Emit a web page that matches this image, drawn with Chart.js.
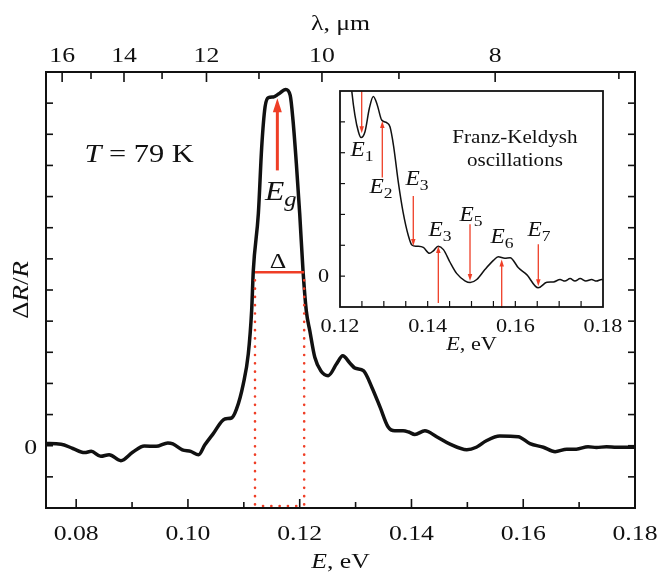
<!DOCTYPE html>
<html><head><meta charset="utf-8">
<script src="https://cdn.jsdelivr.net/npm/chart.js@4.4.1/dist/chart.umd.min.js"></script>
<style>
html,body{margin:0;padding:0;background:#fff;}
#wrap{position:relative;width:659px;height:577px;overflow:hidden;}
#main{position:absolute;left:0;top:0;}
#inset{position:absolute;left:300px;top:80px;}
</style></head><body>
<div id="wrap"><canvas id="main" width="659" height="577"></canvas><canvas id="inset" width="340" height="290"></canvas></div>
<script>
// ---------- data (main panel) ----------
const mainE = [0.0746,0.0773,0.0794,0.0815,0.0827,0.0844,0.0859,0.0880,0.0901,0.0922,0.0943,0.0964,0.0973,0.0990,0.1005,0.1019,0.1030,0.1045,0.1066,0.1078,0.1087,0.1099,0.1108,0.1114,0.1117,0.1126,0.1132,0.1138,0.1144,0.1153,0.1162,0.1175,0.1183,0.1188,0.1194,0.1200,0.1206,0.1212,0.1218,0.1227,0.1238,0.1251,0.1266,0.1277,0.1290,0.1299,0.1314,0.1329,0.1344,0.1358,0.1370,0.1385,0.1395,0.1406,0.1424,0.1445,0.1469,0.1499,0.1516,0.1534,0.1558,0.1591,0.1612,0.1636,0.1657,0.1678,0.1695,0.1716,0.1731,0.1749,0.1767,0.1785,0.1800];
const mainR = [0.07,0.05,-0.09,-0.22,-0.18,-0.34,-0.29,-0.48,-0.21,-0.01,-0.02,0.09,0.06,-0.13,-0.18,-0.29,0.02,0.38,0.86,0.89,1.18,1.98,2.95,4.34,5.63,7.45,9.59,10.88,11.18,11.20,11.29,11.44,11.25,10.45,9.06,7.45,5.60,4.30,3.70,2.84,2.40,2.25,2.63,2.89,2.65,2.49,2.41,1.88,1.23,0.61,0.48,0.48,0.44,0.36,0.48,0.29,0.05,-0.13,-0.05,0.16,0.31,0.29,0.07,-0.05,-0.19,-0.11,-0.11,-0.03,-0.06,-0.03,-0.05,-0.05,-0.05];
// ---------- data (inset) ----------
const insetE = [0.1222,0.1227,0.1234,0.1242,0.1248,0.1257,0.1267,0.1276,0.1285,0.1295,0.1307,0.1314,0.1322,0.1333,0.1344,0.1356,0.1364,0.1375,0.1390,0.1404,0.1413,0.1424,0.1436,0.1451,0.1466,0.1485,0.1497,0.1512,0.1531,0.1550,0.1561,0.1576,0.1588,0.1607,0.1626,0.1652,0.1672,0.1687,0.1702,0.1713,0.1725,0.1736,0.1748,0.1761,0.1774,0.1785,0.1797,0.1800];
const insetR = [6.8,5.98,5.22,4.68,4.49,4.68,5.44,5.82,5.55,5.06,4.97,4.84,4.24,3.05,2.07,1.31,1.01,0.97,0.93,0.74,0.82,0.97,0.86,0.45,0.09,-0.15,-0.21,-0.11,0.22,0.51,0.63,0.58,0.60,0.27,0.05,-0.38,-0.20,-0.19,-0.11,-0.16,-0.08,-0.16,-0.08,-0.16,-0.11,-0.16,-0.11,-0.12];
// ---------- ticks ----------
const xMajor = [0.08,0.10,0.12,0.14,0.16,0.18];
const xMajorLabels = ['0.08','0.10','0.12','0.14','0.16','0.18'];
const xMinor = [0.09,0.11,0.13,0.15,0.17];
const lambdaMajor = [16,14,12,10,8];
const lambdaMinor = [15,13,11,9,7];
const yTicks = [-1,0,1,2,3,4,5,6,7,8,9,10,11];
const insetXMajor = [0.12,0.14,0.16,0.18];
const insetXLabels = ['0.12','0.14','0.16','0.18'];
const insetXMinor = [0.125,0.13,0.135,0.14,0.145,0.15,0.155,0.16,0.165,0.17,0.175];
const insetYTicks = [0,1,2,3,4,5];
// ---------- annotations (data units) ----------
const HC = 1.2398; // eV*um
const egArrow = {x:0.1160, from:8.84, to:11.16};
const egLabel = {x:0.1166, y:7.88};
const delta = {x0:0.1120, x1:0.1208, y:5.57};
const deltaLabel = {x:0.1161, y:5.72};
const tempLabel = {x:0.0815, y:9.12};
// inset arrows: [E, fromY, toY]
const fkArrows = [[0.12495,6.0,4.63],[0.12965,3.2,5.03],[0.13672,2.6,0.98],[0.14243,-0.87,0.98],[0.14966,1.68,-0.16],[0.15689,-1.03,0.54],[0.16524,1.03,-0.33]];
const fkLabels = [['1',0.12502,3.89],['2',0.12935,2.69],['3',0.13757,2.95],['3',0.14282,1.29],['5',0.14989,1.78],['6',0.15696,1.06],['7',0.16540,1.29]];
const fkText = {x:0.1599, y1:4.30, y2:3.58};

const SX = 1.17;
const RED = '#ef3e26';
const FAM = '"Liberation Serif", "Times New Roman", serif';
function font(size, it){ return (it?'italic ':'') + size + 'px ' + FAM; }
function drawRich(ctx, segs, x, y, align){
  const ws = segs.map(s => { ctx.font = font(s.size, s.it); return ctx.measureText(s.t).width * SX; });
  const tot = ws.reduce((a,b)=>a+b,0);
  let sx = align==='center' ? x - tot/2 : (align==='right' ? x - tot : x);
  ctx.textAlign='left'; ctx.textBaseline='alphabetic';
  segs.forEach((s,i)=>{
    ctx.font = font(s.size, s.it);
    ctx.save(); ctx.translate(sx, y + (s.dy||0)); ctx.scale(SX,1); ctx.fillText(s.t,0,0); ctx.restore();
    sx += ws[i];
  });
}
function arrow(ctx, x, y0, y1, lw, hl, hw, color){
  const dir = y1 < y0 ? -1 : 1;
  ctx.save(); ctx.strokeStyle=color; ctx.fillStyle=color; ctx.lineWidth=lw; ctx.lineCap='butt';
  ctx.beginPath(); ctx.moveTo(x,y0); ctx.lineTo(x, y1 - dir*hl*0.8); ctx.stroke();
  ctx.beginPath(); ctx.moveTo(x,y1); ctx.lineTo(x-hw/2, y1-dir*hl); ctx.lineTo(x+hw/2, y1-dir*hl); ctx.closePath(); ctx.fill();
  ctx.restore();
}

const mainDecor = {
  id:'mainDecor',
  afterDatasetsDraw(chart){
    const ctx = chart.ctx, ca = chart.chartArea, xs = chart.scales.x, ys = chart.scales.y;
    const px = v => xs.getPixelForValue(v), py = v => ys.getPixelForValue(v);
    ctx.save();
    ctx.strokeStyle = RED; ctx.lineWidth = 2.6; ctx.lineCap='round'; ctx.setLineDash([0.1, 8.2]);
    [delta.x0, delta.x1].forEach(e => { ctx.beginPath(); ctx.moveTo(px(e), py(delta.y)+8); ctx.lineTo(px(e), ca.bottom-2); ctx.stroke(); });
    ctx.beginPath(); ctx.moveTo(px(delta.x0)+8, ca.bottom-2); ctx.lineTo(px(delta.x1)-4, ca.bottom-2); ctx.stroke();
    ctx.setLineDash([]); ctx.lineCap='butt';
    ctx.lineWidth = 2.6; ctx.beginPath(); ctx.moveTo(px(delta.x0), py(delta.y)); ctx.lineTo(px(delta.x1), py(delta.y)); ctx.stroke();
    arrow(ctx, px(egArrow.x), py(egArrow.from), py(egArrow.to), 3, 14, 9, RED);
    ctx.fillStyle = '#111';
    drawRich(ctx, [{t:'E',size:27,it:true},{t:'g',size:21,it:true,dy:6}], px(egLabel.x), py(egLabel.y), 'center');
    drawRich(ctx, [{t:'Δ',size:22}], px(deltaLabel.x), py(deltaLabel.y), 'center');
    drawRich(ctx, [{t:'T',size:26,it:true},{t:' = 79 K',size:26}], px(tempLabel.x), py(tempLabel.y), 'left');
    ctx.restore();
  },
  afterDraw(chart){
    const ctx = chart.ctx, ca = chart.chartArea, xs = chart.scales.x, ys = chart.scales.y;
    const px = v => xs.getPixelForValue(v), py = v => ys.getPixelForValue(v);
    ctx.save();
    ctx.strokeStyle = '#111'; ctx.lineWidth = 2;
    ctx.strokeRect(ca.left, ca.top, ca.right-ca.left, ca.bottom-ca.top);
    ctx.lineWidth = 1.6;
    const vline = (x, y0, y1) => { ctx.beginPath(); ctx.moveTo(x,y0); ctx.lineTo(x,y1); ctx.stroke(); };
    const hline = (y, x0, x1) => { ctx.beginPath(); ctx.moveTo(x0,y); ctx.lineTo(x1,y); ctx.stroke(); };
    xMajor.forEach(v => vline(px(v), ca.bottom, ca.bottom-9));
    xMinor.forEach(v => vline(px(v), ca.bottom, ca.bottom-6));
    lambdaMajor.forEach(l => vline(px(HC/l), ca.top, ca.top+10));
    lambdaMinor.forEach(l => vline(px(HC/l), ca.top, ca.top+7));
    yTicks.forEach(v => { hline(py(v), ca.left, ca.left+7); hline(py(v), ca.right, ca.right-7); });
    ctx.fillStyle = '#111';
    xMajor.forEach((v,i) => drawRich(ctx, [{t:xMajorLabels[i], size:22}], px(v), ca.bottom+32, 'center'));
    lambdaMajor.forEach(l => drawRich(ctx, [{t:String(l), size:22}], px(HC/l), ca.top-10, 'center'));
    drawRich(ctx, [{t:'0', size:22}], ca.left-9, py(0)+8, 'right');
    const cx = (ca.left+ca.right)/2;
    drawRich(ctx, [{t:'E',size:22,it:true},{t:', eV',size:22}], cx, ca.bottom+60, 'center');
    drawRich(ctx, [{t:'λ, μm',size:22}], cx, ca.top-42, 'center');
    ctx.save(); ctx.translate(28, (ca.top+ca.bottom)/2); ctx.rotate(-Math.PI/2);
    drawRich(ctx, [{t:'Δ',size:23},{t:'R',size:23,it:true},{t:'/',size:23},{t:'R',size:23,it:true}], 0, 0, 'center');
    ctx.restore();
    ctx.restore();
  }
};

const insetDecor = {
  id:'insetDecor',
  beforeDraw(chart){
    const ctx = chart.ctx, ca = chart.chartArea;
    ctx.save(); ctx.fillStyle='#fff'; ctx.fillRect(ca.left, ca.top, ca.right-ca.left, ca.bottom-ca.top); ctx.restore();
  },
  afterDraw(chart){
    const ctx = chart.ctx, ca = chart.chartArea, xs = chart.scales.x, ys = chart.scales.y;
    const px = v => xs.getPixelForValue(v), py = v => ys.getPixelForValue(v);
    ctx.save();
    fkArrows.forEach(a => arrow(ctx, px(a[0]), py(a[1]), py(a[2]), 1.3, 7, 4.5, RED));
    ctx.fillStyle = '#111';
    fkLabels.forEach(l => drawRich(ctx, [{t:'E',size:20,it:true},{t:l[0],size:15,dy:5}], px(l[1]), py(l[2]), 'center'));
    drawRich(ctx, [{t:'Franz-Keldysh',size:18}], px(fkText.x), py(fkText.y1), 'center');
    drawRich(ctx, [{t:'oscillations',size:18}], px(fkText.x), py(fkText.y2), 'center');
    ctx.strokeStyle = '#111'; ctx.lineWidth = 1.8;
    ctx.strokeRect(ca.left, ca.top, ca.right-ca.left, ca.bottom-ca.top);
    ctx.lineWidth = 1.2;
    insetYTicks.forEach(v => { ctx.beginPath(); ctx.moveTo(ca.left, py(v)); ctx.lineTo(ca.left+5, py(v)); ctx.stroke(); });
    insetXMinor.forEach(v => { ctx.beginPath(); ctx.moveTo(px(v), ca.bottom); ctx.lineTo(px(v), ca.bottom-6); ctx.stroke(); });
    insetXMajor.forEach((v,i) => drawRich(ctx, [{t:insetXLabels[i],size:19}], px(v), ca.bottom+25, 'center'));
    drawRich(ctx, [{t:'0',size:19}], ca.left-11, py(0)+6, 'right');
    drawRich(ctx, [{t:'E',size:19,it:true},{t:', eV',size:19}], (ca.left+ca.right)/2, ca.bottom+43, 'center');
    ctx.restore();
  }
};

new Chart(document.getElementById('main'), {
  type:'line',
  data:{datasets:[{data: mainE.map((e,i)=>({x:e,y:mainR[i]})), borderColor:'#111', borderWidth:3.5, pointRadius:0, cubicInterpolationMode:'monotone', fill:false, borderJoinStyle:'round', borderCapStyle:'round'}]},
  options:{responsive:false, animation:false, events:[],
    layout:{padding:{left:46,right:24,top:72,bottom:69}},
    scales:{x:{type:'linear',min:0.0746,max:0.18,display:false}, y:{type:'linear',min:-2,max:12,display:false}},
    plugins:{legend:{display:false},tooltip:{enabled:false}}},
  plugins:[mainDecor]
});
new Chart(document.getElementById('inset'), {
  type:'line',
  data:{datasets:[{data: insetE.map((e,i)=>({x:e,y:insetR[i]})), borderColor:'#111', borderWidth:1.5, pointRadius:0, cubicInterpolationMode:'monotone', fill:false}]},
  options:{responsive:false, animation:false, events:[],
    layout:{padding:{left:40,right:37,top:11,bottom:63}},
    scales:{x:{type:'linear',min:0.12,max:0.18,display:false}, y:{type:'linear',min:-1,max:6,display:false}},
    plugins:{legend:{display:false},tooltip:{enabled:false}}},
  plugins:[insetDecor]
});
</script>
</body></html>
